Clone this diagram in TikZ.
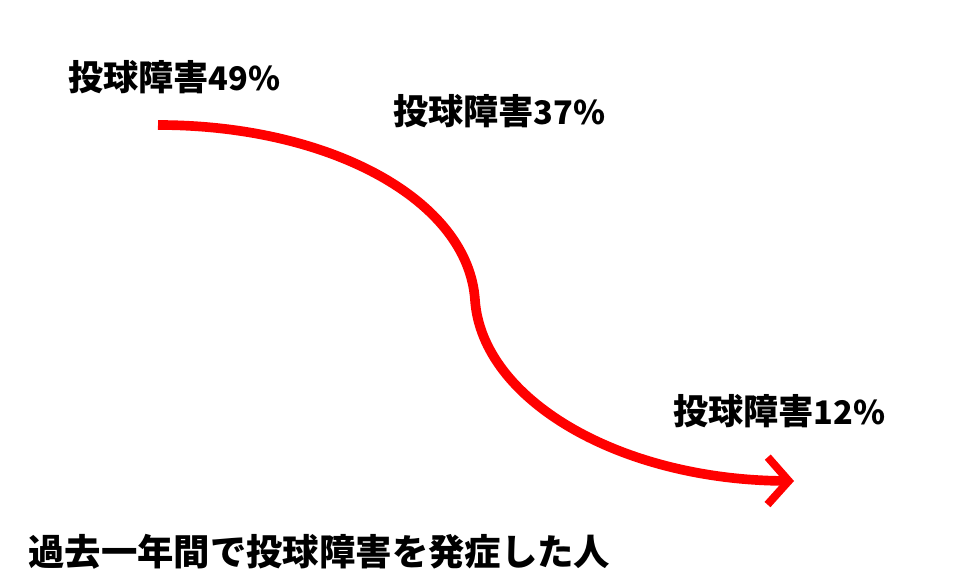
\documentclass[tikz,border=0pt]{standalone}
\usepackage{fontspec}
\newfontfamily\cjk{Noto Sans CJK JP}
\usetikzlibrary{arrows.meta}
\usetikzlibrary{positioning}
\tikzset{label/.style = {anchor=west, inner sep=0, font=\cjk\bfseries\fontsize{20}{24}\selectfont}}
\tikzset{trend/.style = {draw=red, line width=5.5pt,
                         -{Straight Barb[length=12pt, width=27pt, line width=4.5pt]}}}
\newcommand{\pct}[1]{{\fontsize{18.5}{24}\selectfont #1\%}}

\begin{document}
\begin{tikzpicture}[x=0.02cm, y=-0.02cm]
    \useasboundingbox (0,0) rectangle (960,584);
    \node [label] (first) at (68, 77) {投球障害\pct{49}};
    \node [label] (second) at (393, 111) {投球障害\pct{37}};
    \node [label] (third) at (673, 411) {投球障害\pct{12}};
    \node [label, font=\cjk\bfseries\fontsize{20.7}{24}\selectfont] (caption) at (28, 552)
      {過去一年間で投球障害を発症した人};
    \coordinate (start) at (158, 125);
    \coordinate (turn) at (475, 300);
    \coordinate (end) at (794, 481);
    \draw [trend] (start) .. controls (330, 125) and (468, 200) .. (turn)
                          .. controls (482, 400) and (620, 480) .. (end);
  \end{tikzpicture}
\end{document}
